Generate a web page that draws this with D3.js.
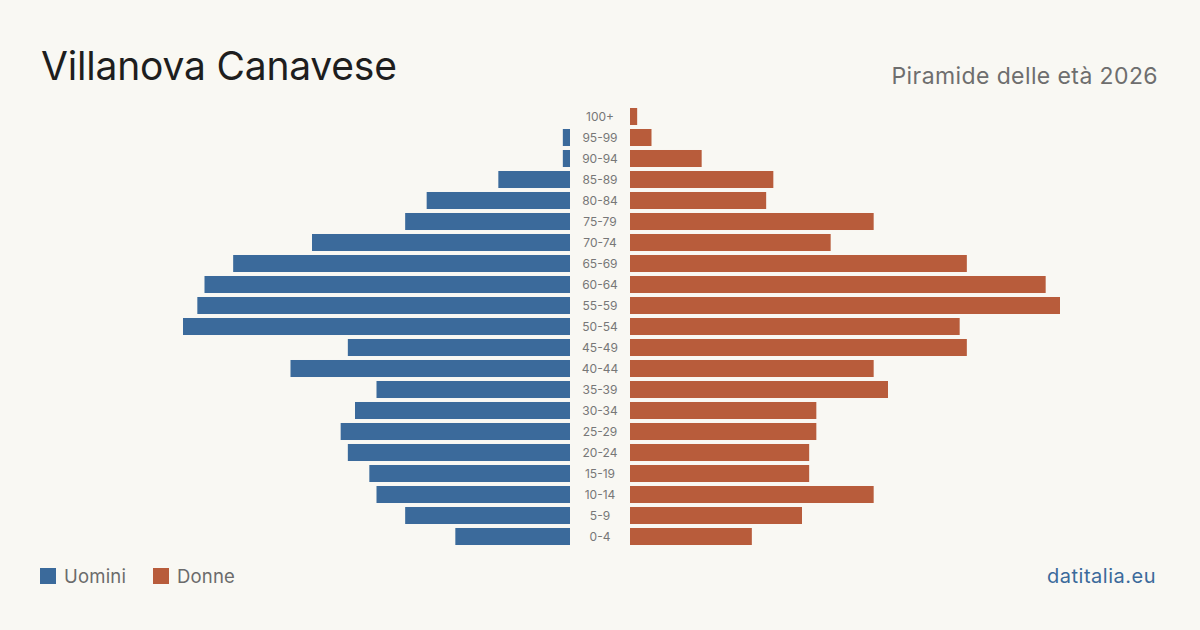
<!DOCTYPE html>
<html>
<head>
<meta charset="utf-8">
<script src="https://cdn.jsdelivr.net/npm/d3@7"></script>
<style>
  body { margin: 0; background: #f9f8f3; }
  text { font-family: Inter, "Noto Sans", sans-serif; }
</style>
</head>
<body>
<div id="container"></div>
<script>
/* CONSTANTS AND GLOBALS */
const width = 1200;
const height = 630;

/* DATA */
const ageGroups = ["100+", "95-99", "90-94", "85-89", "80-84", "75-79", "70-74", "65-69", "60-64", "55-59",
  "50-54", "45-49", "40-44", "35-39", "30-34", "25-29", "20-24", "15-19", "10-14", "5-9", "0-4"];
const males   = [0, 1, 1, 10, 20, 23, 36, 47, 51, 52, 54, 31, 39, 27, 30, 32, 31, 28, 27, 23, 16];
const females = [1, 3, 10, 20, 19, 34, 28, 47, 58, 60, 46, 47, 34, 36, 26, 26, 25, 25, 34, 24, 17];

const blue = "#3b6a9b";
const orange = "#b85c3b";

const svg = d3.select("#container")
  .append("svg")
  .attr("width", width)
  .attr("height", height)
  .style("background-color", "#f9f8f3");

/* SCALES */
const yScale = d3.scaleBand()
  .domain(ageGroups)
  .range([106, 547])
  .paddingInner(0.19)
  .paddingOuter(0.095);

const maxVal = d3.max([...males, ...females]);

// men grow to the left of 570, women to the right of 630
const xLeft = d3.scaleLinear().domain([0, maxVal]).range([570, 140]);
const xRight = d3.scaleLinear().domain([0, maxVal]).range([630, 1060]);

/* BARS */
svg.selectAll(".bar-m")
  .data(ageGroups)
  .join("rect")
  .attr("class", "bar-m")
  .attr("x", (d, i) => xLeft(males[i]))
  .attr("y", d => yScale(d))
  .attr("width", (d, i) => xLeft(0) - xLeft(males[i]))
  .attr("height", yScale.bandwidth())
  .attr("fill", blue);

svg.selectAll(".bar-f")
  .data(ageGroups)
  .join("rect")
  .attr("class", "bar-f")
  .attr("x", xRight(0))
  .attr("y", d => yScale(d))
  .attr("width", (d, i) => xRight(females[i]) - xRight(0))
  .attr("height", yScale.bandwidth())
  .attr("fill", orange);

svg.selectAll(".age")
  .data(ageGroups)
  .join("text")
  .attr("class", "age")
  .attr("x", 600)
  .attr("y", d => yScale(d) + yScale.bandwidth() / 2 + 4)
  .attr("text-anchor", "middle")
  .attr("font-size", 12)
  .attr("fill", "#777")
  .text(d => d);

/* TITLES */
svg.append("text")
  .attr("x", 41)
  .attr("y", 80)
  .attr("font-size", 39)
  .attr("letter-spacing", -0.2)
  .attr("fill", "#1e1e1e")
  .text("Villanova Canavese");

svg.append("text")
  .attr("x", 1158)
  .attr("y", 84)
  .attr("text-anchor", "end")
  .attr("font-size", 23)
  .attr("letter-spacing", 0.4)
  .attr("fill", "#6e6e6e")
  .text("Piramide delle età 2026");

/* LEGEND */
const legend = [
  { label: "Uomini", color: blue, x: 40 },
  { label: "Donne", color: orange, x: 153 }
];

const lg = svg.selectAll(".legend")
  .data(legend)
  .join("g")
  .attr("class", "legend")
  .attr("transform", d => `translate(${d.x},568)`);

lg.append("rect")
  .attr("width", 16)
  .attr("height", 16)
  .attr("fill", d => d.color);

lg.append("text")
  .attr("x", 24)
  .attr("y", 15)
  .attr("font-size", 18.5)
  .attr("letter-spacing", 0.2)
  .attr("fill", "#6b6b6b")
  .text(d => d.label);

svg.append("text")
  .attr("x", 1156)
  .attr("y", 583)
  .attr("text-anchor", "end")
  .attr("font-size", 20)
  .attr("letter-spacing", 0.5)
  .attr("fill", "#3b6a9b")
  .text("datitalia.eu");
</script>
</body>
</html>
